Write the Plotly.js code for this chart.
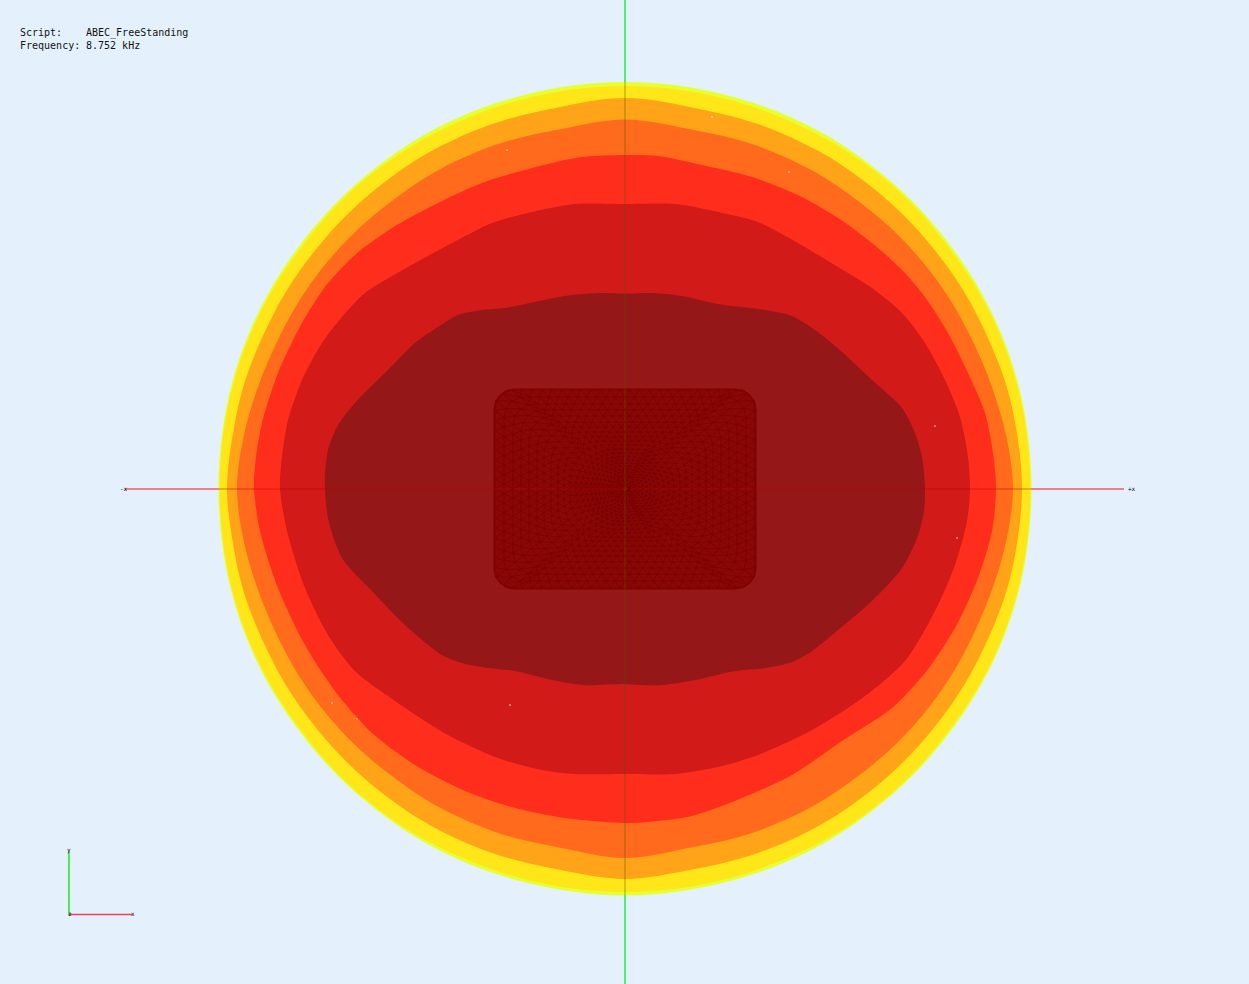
<!DOCTYPE html>
<html><head><meta charset="utf-8">
<script src="https://cdn.plot.ly/plotly-3.0.1.min.js"></script>
<style>html,body{margin:0;padding:0;background:#E4F1FD}#c{width:1249px;height:984px}</style>
</head><body><div id="c"></div>
<script>
// Contour bands, outermost first (image pixel units), clockwise from top
const bandColors=["#E6FF30","#FFE619","#FFA419","#FF6A1C","#FF2E1C","#D21A19","#951717"];
const bandSmoothing=[1,1,1,1,0.8,0.8,0.8];
const band1X=[625,678,730,781,828,872,912,947,977,1001,1018,1028,1031.5,1028,1018,1001,977,947,912,872,828,781,730,678,625,572,520,469,422,378,338,303,273,249,232,222,218.5,222,232,249,273,303,338,378,422,469,520,572,625];
const band1Y=[82,85.5,96,113,136,166,201,241,285,333,383,435,488.5,542,594,644,692,736,776,811,841,864,881,891.5,895.5,891.5,881,864,841,811,776,736,692,644,594,542,488.5,435,383,333,285,241,201,166,136,113,96,85.5,82];
const band2X=[625,678,730,780,828,872,912,946,976,1000,1017,1027,1030.5,1027,1017,1000,976,946,912,872,828,780,730,678,625,572,520,470,422,378,338,304,274,250,233,223,219.5,223,233,250,274,304,338,378,422,470,520,572,625];
const band2Y=[86,89.5,100,117,140,169,204,244,287.5,335,385,436,489,542,593,643,690.5,734,774,809,838,861,878,888.5,892,888.5,878,861,838,809,774,734,690.5,643,593,542,489,436,385,335,287.5,244,204,169,140,117,100,89.5,86];
const band3X=[625,692,758,819.5,862,901,935,964.5,988,1006.5,1017.6,1022,1017.6,1006.5,988,964.5,935,901,862,819.5,758,692,625,558,492,430.5,388,349,315,285.5,262,243.5,232.4,227,232.4,243.5,262,285.5,315,349,388,430.5,492,558,625];
const band3Y=[98,107.4,124,151.6,179.5,212.7,250.5,292.5,338,386,437,488.5,540,591,639,684.5,726.5,764.3,797.5,825.4,853,869.6,879,869.6,853,825.4,797.5,764.3,726.5,684.5,639,591,540,488.5,437,386,338,292.5,250.5,212.7,179.5,151.6,124,107.4,98];
const band4X=[625,688.4,750.5,809.5,850,888,921.7,950.6,974,993,1006.7,1013,1006.7,993,974,950.6,921.7,888,850,809.5,750.5,688.4,625,561.6,499.5,440.5,400,362,328.3,299.4,276,257,243.3,237,243.3,257,276,299.4,328.3,362,400,440.5,499.5,561.6,625];
const band4Y=[119.5,129,143.6,168.9,194.9,225.5,260.8,300.5,343.8,389.9,438.3,488.5,538.7,587.1,633.2,676.5,716.2,751.5,782.1,808.1,833.4,848,858,848,833.4,808.1,782.1,751.5,716.2,676.5,633.2,587.1,538.7,488.5,438.3,389.9,343.8,300.5,260.8,225.5,194.9,168.9,143.6,129,119.5];
const band5X=[625,658,702,752,798,838,872,902,925,948,968,985,993,996,992,978,955,925,892,842,792,742,692,648,625,565,515,465,415,372,338,305,278,260,254,256,262,278,302,325,355,392,438,482,532,582,625];
const band5Y=[155,156,165,177,195,218,243,270,297,333,373,413,453,488,531,578,628,673,708,741,775,798,816,822,823,818,808,791,765,733,695,645,588,531,488,457,423,373,323,287,255,228,203,183,168,157,155];
const band6X=[625,675,718,758,798,838,872,902,925,945,960,968,970,967,955,935,905,865,812,758,718,675,625,575,542,498,448,395,355,328,305,287,280,282,288,302,322,342,365,408,452,492,532,575,625];
const band6Y=[204,204,212,222,243,267,288,313,343,380,417,457,488,521,565,611,661,696,730,755,767,774,774,774,770,758,735,701,671,635,588,531,488,457,420,380,343,317,293,267,243,223,212,204,204];
const band7X=[625,652,682,718,765,792,815,842,872,902,915,922,925,924,917,902,872,838,812,792,765,735,695,662,638,625,582,548,515,488,462,442,405,372,342,328,325,325,328,337,355,388,415,438,458,482,505,535,565,598,625];
const band7Y=[293.5,293,296,304,310,316,330,352,380,408,433,457,488,511,538,568,601,630,651,662,668,671,680,685,685,684,685,679,671,668,663,655,625,591,558,518,488,473,450,427,403,370,343,327,315,310,308,302,296,293,293.5];
// Mesh patch in the middle
const patchX=[514,736,744,750,754.5,756,756,754.5,750,744,736,514,506,500,495.5,494,494,495.5,500,506,514];
const patchY=[389,389,390.5,395,401,409,569,577,583,587.5,589,589,587.5,583,577,569,409,401,395,390.5,389];
const ringHalfX=[130,121,112,104,96,88,81,74,67,61,55,49,44,39,34,30,26,22,18,15,12,9,6,3];
const ringHalfY=[99,92,85,79,73,67,62,57,52,48,44,40,36,32,29,26,23,20,17,14,12,9,6,3];
const ringCorner=[19,20,21,22,24,26,28,30,32,34,36,38,36,32,29,26,23,20,17,14,12,9,6,3];
const ringNodes=[90,86,82,78,74,70,66,62,58,54,50,47,44,41,38,35,32,29,26,23,20,16,12,8];
// Small white specks
const speckX=[712,789,935,507,957,332,357,510];
const speckY=[117,172,426,150,538,703,719,705];

const bands=[[band1X,band1Y],[band2X,band2Y],[band3X,band3Y],[band4X,band4Y],[band5X,band5Y],[band6X,band6Y],[band7X,band7Y]];
const traces=bands.map((b,i)=>({x:b[0],y:b[1],mode:"lines",fill:"toself",fillcolor:bandColors[i],
  line:{color:bandColors[i],width:0,shape:"spline",smoothing:bandSmoothing[i],simplify:false},hoverinfo:"skip"}));
traces.push({x:patchX,y:patchY,mode:"lines",fill:"toself",fillcolor:"#8A0707",line:{color:"#800000",width:1},hoverinfo:"skip"});

// Mesh wires stitched between the read rings; nodes evenly spaced along each rounded ring
function ringPoint(r,t){
  const hx=ringHalfX[r],hy=ringHalfY[r],c=ringCorner[r],sx=hx-c,sy=hy-c,q=Math.PI*c/2;
  const L=4*sx+4*sy+4*q;let d=((t%1)+1)%1*L;
  const parts=[[sy,0],[q,1],[2*sx,2],[q,3],[2*sy,4],[q,5],[2*sx,6],[q,7],[sy,8]];
  for(const [len,id] of parts){
    if(d<=len||id===8){const f=len>0?d/len:0;
      switch(id){
        case 0:return [625+hx,489+d];
        case 1:{const a=f*Math.PI/2;return [625+sx+c*Math.cos(a),489+sy+c*Math.sin(a)];}
        case 2:return [625+sx-d,489+hy];
        case 3:{const a=Math.PI/2+f*Math.PI/2;return [625-sx+c*Math.cos(a),489+sy+c*Math.sin(a)];}
        case 4:return [625-hx,489+sy-d];
        case 5:{const a=Math.PI+f*Math.PI/2;return [625-sx+c*Math.cos(a),489-sy+c*Math.sin(a)];}
        case 6:return [625-sx+d,489-hy];
        case 7:{const a=1.5*Math.PI+f*Math.PI/2;return [625+sx+c*Math.cos(a),489-sy+c*Math.sin(a)];}
        default:return [625+hx,489-sy+d];
      }}
    d-=len;}
}
const shift=r=>(r%2)*0.5;
const node=(r,k)=>ringPoint(r,(k+shift(r))/ringNodes[r]);
const mx=[],my=[];
function seg(p,q){mx.push(p[0],q[0],null);my.push(p[1],q[1],null);}
for(let r=0;r<ringHalfX.length;r++){const n=ringNodes[r];
  for(let k=0;k<n;k++){const p=node(r,k);seg(p,node(r,k+1));
    if(r<ringHalfX.length-1){const m=ringNodes[r+1],t=(k+shift(r))/n,j=Math.floor(t*m-shift(r+1));
      seg(p,node(r+1,j));seg(p,node(r+1,j+1));}}}
traces.push({x:mx,y:my,mode:"lines",line:{color:"rgba(118,0,0,0.75)",width:0.8,simplify:false},hoverinfo:"skip"});

// Axis lines
const axisVX=[625,625],axisOutY=[[0,82],[895,984]],axisInY=[82,895];
const axisHY=[489,489],axisOutX=[[125,219],[1031,1124]],axisInX=[219,1031];
axisOutY.forEach(v=>traces.push({x:axisVX,y:v,mode:"lines",line:{color:"#4CF36A",width:2},hoverinfo:"skip"}));
traces.push({x:axisVX,y:axisInY,mode:"lines",line:{color:"rgba(70,90,0,0.25)",width:2},hoverinfo:"skip"});
axisOutX.forEach(v=>traces.push({x:v,y:axisHY,mode:"lines",line:{color:"#EE8088",width:2},hoverinfo:"skip"}));
traces.push({x:axisInX,y:axisHY,mode:"lines",line:{color:"rgba(190,0,0,0.25)",width:2},hoverinfo:"skip"});

// Triad
traces.push({x:[69,69],y:[852,915],mode:"lines",line:{color:"#14F014",width:1.5},hoverinfo:"skip"});
traces.push({x:[69,132],y:[914.5,914.5],mode:"lines",line:{color:"#F04050",width:1.5},hoverinfo:"skip"});
traces.push({x:speckX,y:speckY,mode:"markers",marker:{color:"#FFFFFF",size:1.5,line:{width:0}},hoverinfo:"skip"});

function tiny(x,y,t){return {x,y,text:t,showarrow:false,xanchor:"center",yanchor:"middle",font:{family:"DejaVu Sans Mono",size:6,color:"#000"}};}
function label(x,y,t){return {x,y,text:t,showarrow:false,xanchor:"left",yanchor:"middle",font:{family:"DejaVu Sans Mono, Liberation Mono",size:10,color:"#111"}};}
const annotations=[label(18,32.5,"Script:"),label(84,32.5,"ABEC_FreeStanding"),label(18,45.5,"Frequency:"),label(84,45.5,"8.752 kHz"),
  tiny(124,488,"-x"),tiny(1132,488,"+x"),tiny(69,850,"y"),tiny(133,913,"x"),tiny(70,913,"z"),tiny(629,488,"z")];

Plotly.newPlot("c",traces,{width:1249,height:984,margin:{l:0,r:0,t:0,b:0},showlegend:false,
  paper_bgcolor:"#E4F1FD",plot_bgcolor:"#E4F1FD",
  xaxis:{range:[0,1249],visible:false,fixedrange:true},
  yaxis:{range:[984,0],visible:false,fixedrange:true},annotations},{displayModeBar:false,staticPlot:true});
</script></body></html>
